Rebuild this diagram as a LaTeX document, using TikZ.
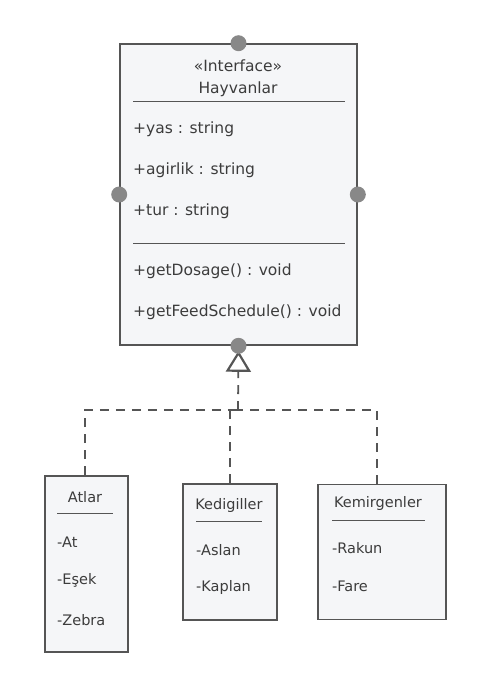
\documentclass[tikz,border=0pt]{standalone}
\usepackage{fontspec}
\setmainfont{DejaVu Sans}
\usepackage{xcolor}
\usetikzlibrary{arrows.meta,positioning}
\definecolor{linegray}{HTML}{555555}
\definecolor{boxfill}{HTML}{F5F6F8}
\definecolor{dotgray}{HTML}{888888}
\definecolor{txtgray}{HTML}{3C3C3C}

\begin{document}
\begin{tikzpicture}[x=1pt,y=-1pt,
  box/.style={draw=linegray,fill=boxfill,line width=1.6pt,inner sep=0pt},
  port/.style={circle,fill=dotgray,minimum size=16pt,inner sep=0pt},
  lbl/.style={text=txtgray,inner sep=0pt,font=\fontsize{14.5}{16}\selectfont},
  big/.style={lbl,font=\fontsize{15.5}{17}\selectfont},
  item/.style={lbl,anchor=west},
  bigitem/.style={big,anchor=west},
  sep/.style={draw=linegray,line width=0.9pt},
  rel/.style={draw=linegray,line width=1.8pt,dash pattern=on 9pt off 7pt}]
  \useasboundingbox (0,0) rectangle (480,697);
  % interface
  \node[box,minimum width=237pt,minimum height=301pt] (hayv) at (238.5,194.5) {};
  \node[big] (ster) at (238,66) {«Interface»};
  \node[big] (hname) at (238,89) {Hayvanlar};
  \draw[sep] (133,101) -- (345,101);
  \node[bigitem] (yas) at (133,129) {+yas : string};
  \node[bigitem] (agir) at (133,170) {+agirlik : string};
  \node[bigitem] (tur) at (133,211) {+tur : string};
  \draw[sep] (133,243) -- (345,243);
  \node[bigitem] (dose) at (133,271) {+getDosage() : void};
  \node[bigitem] (feed) at (133,312) {+getFeedSchedule() : void};
  % subclasses
  \node[box,minimum width=83pt,minimum height=176pt] (atlar) at (86.5,564) {};
  \node[lbl] (atT) at (85,497) {Atlar};
  \draw[sep] (57,513) -- (113,513);
  \node[item] (at) at (57,542) {-At};
  \node[item] (esek) at (57,580) {-Eşek};
  \node[item] (zebra) at (57,620) {-Zebra};
  \node[box,minimum width=94pt,minimum height=136pt] (kedi) at (230,552) {};
  \node[lbl] (keT) at (229,505) {Kedigiller};
  \draw[sep] (196,521) -- (262,521);
  \node[item] (aslan) at (196,550) {-Aslan};
  \node[item] (kaplan) at (196,587) {-Kaplan};
  \node[box,minimum width=128pt,minimum height=135pt] (kemir) at (382,552) {};
  \node[lbl] (kmT) at (378,503) {Kemirgenler};
  \draw[sep] (332,520) -- (425,520);
  \node[item] (rakun) at (332,548) {-Rakun};
  \node[item] (fare) at (332,586) {-Fare};
  % realization
  \coordinate (jn) at (238,410);
  \draw[rel] ([xshift=-1.5pt]atlar.north) |- (jn);
  \draw[rel] (kedi.north) |- (jn);
  \draw[rel] ([xshift=-5pt]kemir.north) |- (jn);
  \draw[rel,-{Triangle[open,length=21pt,width=25pt,line width=2.2pt]}] (jn) -- ([yshift=-5pt]hayv.south);
  \node[port] (pn) at (hayv.north) {};
  \node[port] (pw) at (hayv.west) {};
  \node[port] (pe) at (hayv.east) {};
  \node[port] (ps) at (hayv.south) {};
\end{tikzpicture}
\end{document}
